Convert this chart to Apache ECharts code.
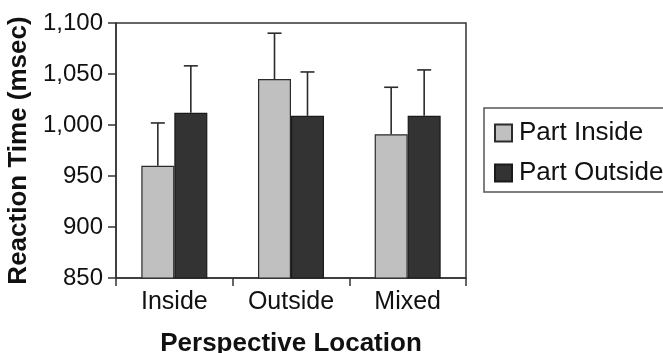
<!DOCTYPE html>
<html>
<head>
<meta charset="utf-8">
<script src="https://cdn.jsdelivr.net/npm/echarts@6/dist/echarts.min.js"></script>
<style>
html,body{margin:0;padding:0;background:#fff;}
#chart{width:663px;height:353px;}
</style>
</head>
<body>
<div id="chart"></div>
<script>
var categories = ['Inside', 'Outside', 'Mixed'];
var seriesNames = ['Part Inside', 'Part Outside'];
var partInside = [960, 1045, 991];
var partOutside = [1012, 1009, 1009];
var partInsideErrTop = [1002, 1090, 1037];
var partOutsideErrTop = [1058, 1052, 1054];
var yTicks = [850, 900, 950, 1000, 1050, 1100];

var FONT = '"Liberation Sans", Arial, Helvetica, sans-serif';
var BAR_W = 33;

function errSeries(name, errTop, values, side) {
  var data = [];
  for (var i = 0; i < categories.length; i++) data.push([i, values[i], errTop[i]]);
  return {
    type: 'custom',
    name: name + ' err',
    z: 5,
    silent: true,
    renderItem: function (params, api) {
      var ci = api.value(0);
      var pBase = api.coord([ci, api.value(1)]);
      var pTop = api.coord([ci, api.value(2)]);
      var x = pBase[0] + side * BAR_W / 2;
      var cap = 7;
      var st = { stroke: '#2b2b2b', lineWidth: 1.6 };
      return {
        type: 'group',
        children: [
          { type: 'line', shape: { x1: x, y1: pBase[1], x2: x, y2: pTop[1] }, style: st },
          { type: 'line', shape: { x1: x - cap, y1: pTop[1], x2: x + cap, y2: pTop[1] }, style: st }
        ]
      };
    },
    data: data
  };
}

var chart = echarts.init(document.getElementById('chart'), null, { renderer: 'canvas' });
chart.setOption({
  animation: false,
  backgroundColor: '#ffffff',
  textStyle: { fontFamily: FONT },
  grid: {
    left: 116, right: 197, top: 23, bottom: 75,
    show: true, borderColor: '#333', borderWidth: 1.5, backgroundColor: 'transparent',
    containLabel: false, outerBoundsMode: 'none'
  },
  legend: {
    orient: 'vertical',
    left: 484, top: 108,
    padding: [12, 12, 6, 10],
    borderColor: '#555', borderWidth: 1.5,
    icon: 'rect',
    itemWidth: 17, itemHeight: 17, itemGap: 14,
    data: seriesNames,
    textStyle: { fontFamily: FONT, fontSize: 26, color: '#111', padding: [0, 0, 0, 2] }
  },
  xAxis: {
    type: 'category',
    data: categories,
    axisLine: { lineStyle: { color: '#333', width: 1.5 } },
    axisTick: { show: true, length: 8, lineStyle: { color: '#333', width: 1.5 } },
    axisLabel: { fontFamily: FONT, fontSize: 25, color: '#111', margin: 12 },
    name: 'Perspective Location',
    nameLocation: 'middle',
    nameGap: 53,
    nameTextStyle: { fontFamily: FONT, fontSize: 26, fontWeight: 'bold', color: '#111' }
  },
  yAxis: {
    type: 'value',
    min: yTicks[0], max: yTicks[yTicks.length - 1], interval: 50,
    splitLine: { show: false },
    axisLine: { show: true, lineStyle: { color: '#333', width: 1.5 } },
    axisTick: { show: true, length: 8, lineStyle: { color: '#333', width: 1.5 } },
    axisLabel: {
      fontFamily: FONT, fontSize: 24, color: '#111', margin: 13,
      formatter: function (v) { return v.toLocaleString('en-US'); }
    },
    name: 'Reaction Time (msec)',
    nameLocation: 'middle',
    nameGap: 77,
    nameTextStyle: { fontFamily: FONT, fontSize: 26, fontWeight: 'bold', color: '#111' }
  },
  series: [
    {
      type: 'bar', name: seriesNames[0], data: partInside,
      barWidth: BAR_W, barGap: '0%',
      itemStyle: { color: '#c0c0c0', borderColor: '#2b2b2b', borderWidth: 1.2 }
    },
    {
      type: 'bar', name: seriesNames[1], data: partOutside,
      barWidth: BAR_W, barGap: '0%',
      itemStyle: { color: '#333333', borderColor: '#1a1a1a', borderWidth: 1.2 }
    },
    errSeries(seriesNames[0], partInsideErrTop, partInside, -1),
    errSeries(seriesNames[1], partOutsideErrTop, partOutside, 1)
  ]
});
</script>
</body>
</html>
